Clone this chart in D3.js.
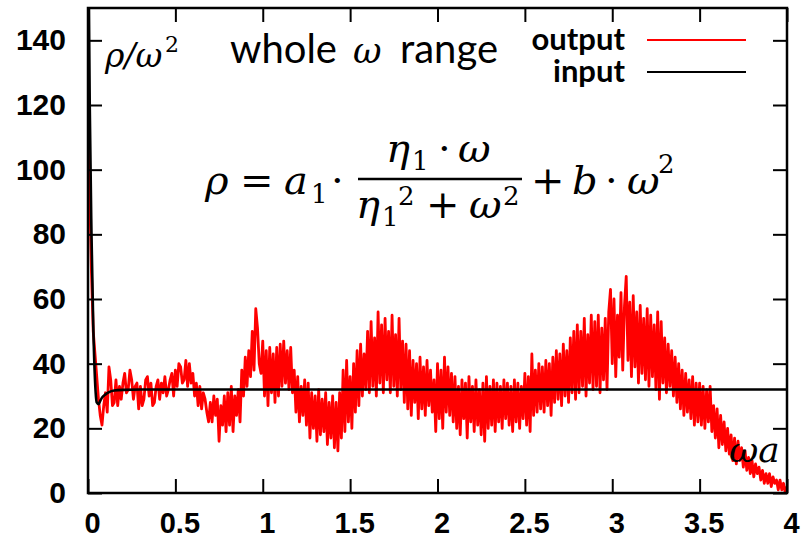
<!DOCTYPE html>
<html><head><meta charset="utf-8">
<script src="https://cdn.jsdelivr.net/npm/d3@7"></script>
<style>body{margin:0;background:#fff}</style>
</head><body>
<svg id="c" width="803" height="541"></svg>
<script>
// ---- data ----
const xTicks = [0, 0.5, 1, 1.5, 2, 2.5, 3, 3.5, 4];
const xTickLabels = ["0", "0.5", "1", "1.5", "2", "2.5", "3", "3.5", "4"];
const yTicks = [0, 20, 40, 60, 80, 100, 120, 140];
const yTickLabels = ["0", "20", "40", "60", "80", "100", "120", "140"];
const seriesNames = ["output", "input"];

// output: sampled every 0.01 in omega from 0 to 4
const outputStep = 0.01;
const outputValues = [
 108, 92, 68, 50, 43, 36, 29, 24, 21, 27,
 31, 25, 39, 35, 27, 28, 35, 27, 33, 29,
 34, 37, 31, 32, 38, 35, 29, 33, 34, 26,
 33, 27, 29, 35, 36, 30, 34, 27, 28, 33,
 35, 29, 34, 31, 36, 30, 32, 35, 37, 30,
 38, 33, 40, 39, 34, 35, 41, 33, 40, 34,
 37, 30, 34, 27, 33, 26, 31, 29, 25, 22,
 28, 22, 30, 24, 29, 16, 27, 21, 30, 19,
 31, 21, 33, 19, 30, 24, 32, 22, 38, 30,
 42, 33, 44, 36, 50, 38, 57, 51, 40, 37,
 47, 30, 44, 27, 45, 31, 43, 28, 45, 30,
 46, 33, 47, 34, 44, 32, 45, 31, 38, 25,
 36, 22, 33, 24, 35, 21, 34, 17, 31, 20,
 30, 16, 32, 18, 29, 19, 31, 15, 28, 17,
 30, 14, 28, 13, 31, 17, 38, 19, 41, 22,
 36, 20, 40, 25, 44, 27, 46, 30, 43, 32,
 50, 31, 53, 33, 48, 30, 56, 34, 52, 31,
 54, 35, 50, 31, 55, 33, 49, 30, 54, 32,
 47, 28, 46, 26, 44, 24, 41, 28, 40, 23,
 42, 26, 39, 24, 41, 27, 38, 25, 35, 19,
 40, 23, 38, 20, 42, 25, 39, 24, 37, 22,
 36, 20, 33, 18, 35, 23, 34, 17, 36, 22,
 33, 19, 35, 21, 32, 18, 34, 16, 36, 20,
 33, 21, 35, 19, 34, 22, 33, 20, 35, 23,
 34, 21, 33, 19, 35, 22, 34, 20, 33, 23,
 37, 21, 36, 19, 43, 24, 38, 25, 40, 26,
 39, 25, 41, 27, 40, 24, 42, 28, 44, 29,
 43, 27, 46, 30, 44, 28, 48, 31, 50, 29,
 52, 31, 50, 33, 54, 30, 49, 34, 55, 32,
 53, 33, 55, 31, 51, 35, 54, 32, 56, 63,
 40, 60, 36, 55, 42, 62, 38, 58, 67, 41,
 59, 36, 61, 39, 56, 34, 58, 37, 54, 35,
 57, 33, 55, 36, 52, 32, 56, 29, 53, 34,
 48, 31, 46, 33, 44, 30, 42, 28, 40, 26,
 38, 24, 37, 25, 35, 23, 36, 21, 34, 22,
 34, 21, 33, 20, 32, 22, 33, 19, 27, 17,
 26, 14, 24, 15, 22, 13, 20, 12, 18, 10,
 17, 9, 16, 10, 14, 8, 13, 7, 11, 6,
 10, 5, 9, 6, 8, 4, 7, 3, 6, 3,
 6, 2, 5, 3, 4, 1, 4, 1, 3, 0,
 2
];

// input (fit) curve
const inputX = [0, 0.004, 0.01, 0.02, 0.03, 0.04, 0.05, 0.06, 0.07, 0.08, 0.1, 0.12, 0.15, 0.2, 0.3, 4];
const inputY = [200, 160, 120, 80, 52, 35, 28, 27.5, 28.5, 29.5, 30.5, 31.2, 31.7, 31.9, 32, 32];

// ---- layout ----
const m = {left: 88, right: 787, top: 8, bottom: 493};
const svg = d3.select("#c");
const x = d3.scaleLinear().domain([0, 4]).range([m.left, m.right]);
const y = d3.scaleLinear().domain([0, 150]).range([m.bottom, m.top]);

svg.append("defs").append("clipPath").attr("id", "clip")
  .append("rect").attr("x", m.left).attr("y", m.top)
  .attr("width", m.right - m.left).attr("height", m.bottom - m.top);

const outData = outputValues.map((v, i) => [i * outputStep, v]);
const inData = inputX.map((v, i) => [v, inputY[i]]);
const line = d3.line().x(d => x(d[0])).y(d => y(d[1]));

const g = svg.append("g").attr("clip-path", "url(#clip)");
g.append("path").datum(outData).attr("d", line)
  .attr("fill", "none").attr("stroke", "#ff0000").attr("stroke-width", 2.8).attr("stroke-linejoin", "round");
g.append("path").datum(inData).attr("d", d3.line().curve(d3.curveMonotoneX).x(d => x(d[0])).y(d => y(d[1])))
  .attr("fill", "none").attr("stroke", "#000").attr("stroke-width", 2.6);

// axes
const tickFont = "'Liberation Sans', Arial, sans-serif";
function styleAxis(sel) {
  sel.select(".domain").remove();
  sel.selectAll(".tick line").attr("stroke", "#000").attr("stroke-width", 2);
  sel.selectAll(".tick text").attr("font-family", tickFont).attr("font-weight", "bold")
    .attr("font-size", 30).attr("fill", "#000");
}
svg.append("g").attr("transform", `translate(${m.left},0)`)
  .call(d3.axisLeft(y).tickValues(yTicks).tickFormat((d, i) => yTickLabels[i]).tickSize(-14).tickPadding(22))
  .call(styleAxis);
svg.append("g").attr("transform", `translate(${m.right},0)`)
  .call(d3.axisRight(y).tickValues(yTicks).tickFormat("").tickSize(-14))
  .call(styleAxis);
svg.append("g").attr("transform", `translate(0,${m.bottom})`)
  .call(d3.axisBottom(x).tickValues(xTicks).tickFormat((d, i) => xTickLabels[i]).tickSize(-14).tickPadding(19))
  .call(styleAxis)
  .selectAll(".tick text").attr("dx", 4).attr("font-size", 29);
svg.append("g").attr("transform", `translate(0,${m.top})`)
  .call(d3.axisTop(x).tickValues(xTicks).tickFormat("").tickSize(-14))
  .call(styleAxis);

svg.append("rect").attr("x", m.left).attr("y", m.top)
  .attr("width", m.right - m.left).attr("height", m.bottom - m.top)
  .attr("fill", "none").attr("stroke", "#000").attr("stroke-width", 2.5);

// legend (one text block with a line per series)
const legend = [{name: seriesNames[0], color: "#ff0000", ty: 50, ly: 40},
                {name: seriesNames[1], color: "#000", ty: 82, ly: 72}];
const legText = svg.append("text").attr("text-anchor", "end")
  .attr("font-family", "Lato, 'Open Sans', sans-serif").attr("font-weight", "bold")
  .attr("font-size", 31).attr("fill", "#000");
legend.forEach(l => {
  legText.append("tspan").attr("x", 625).attr("y", l.ty).text(l.name);
  svg.append("line").attr("x1", 647).attr("x2", 746).attr("y1", l.ly).attr("y2", l.ly)
    .attr("stroke", l.color).attr("stroke-width", 2.2);
});

// annotations
const serif = "'DejaVu Serif', 'Liberation Serif', serif";
function t(txt, px, py, size, italic, anchor) {
  return svg.append("text").attr("x", px).attr("y", py).attr("font-family", serif)
    .attr("font-size", size).attr("font-style", italic ? "italic" : "normal")
    .attr("text-anchor", anchor || "start").attr("fill", "#000").text(txt);
}
// rho / omega^2
t("ρ/ω", 105, 67, 33, true);
t("2", 165, 52, 22, false);
// whole omega range
svg.append("text").attr("x", 230).attr("y", 63).attr("font-family", "Lato, sans-serif")
  .attr("font-size", 40).attr("fill", "#000").text("whole");
t("ω", 353, 63, 35, true);
svg.append("text").attr("x", 400).attr("y", 63).attr("font-family", "Lato, sans-serif")
  .attr("font-size", 40).attr("fill", "#000").text("range");

// formula
const F = 40, S = 26, B = 194;
t("ρ", 205, B, F, true);
t("=", 240, B, F, false);
t("a", 284, B, F, true);
t("1", 311, B + 9, S, false);
t("·", 331, B, F, false);
svg.append("line").attr("x1", 358).attr("x2", 522).attr("y1", 179).attr("y2", 179)
  .attr("stroke", "#000").attr("stroke-width", 2.5);
t("η", 386, 162, F, true);
t("1", 412, 170, S, false);
t("·", 438, 162, F, false);
t("ω", 458, 162, F, true);
t("η", 356, 218, F, true);
t("1", 382, 226, S, false);
t("2", 398, 205, S, false);
t("+", 426, 218, F, false);
t("ω", 469, 218, F, true);
t("2", 503, 205, S, false);
t("+", 531, B, F, false);
t("b", 572, B, F, true);
t("·", 605, B, F, false);
t("ω", 627, B, F, true);
t("2", 658, 173, S, false);

// omega a
t("ωa", 729, 462, 36, true);
</script>
</body></html>
